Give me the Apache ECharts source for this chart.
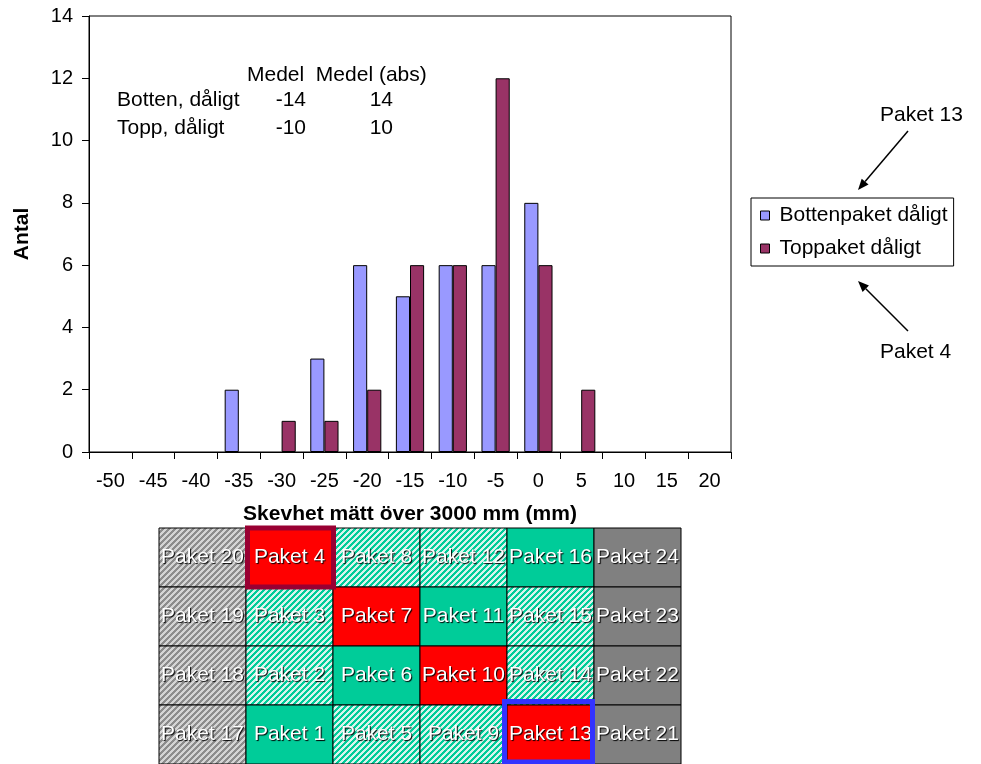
<!DOCTYPE html>
<html>
<head>
<meta charset="utf-8">
<script src="https://cdn.jsdelivr.net/npm/echarts@6/dist/echarts.min.js"></script>
<style>
html, body { margin: 0; background: #fff; }
#chart { width: 981px; height: 764px; }
</style>
</head>
<body>
<div id="chart"></div>
<script>
// histogram: skevhet per klass (mm)
const categories = ['-50', '-45', '-40', '-35', '-30', '-25', '-20', '-15', '-10', '-5', '0', '5', '10', '15', '20']
const bottenValues = [0, 0, 0, 2, 0, 3, 6, 5, 6, 6, 8, 0, 0, 0, 0]
const toppValues = [0, 0, 0, 0, 1, 1, 2, 6, 6, 12, 6, 2, 0, 0, 0]
const seriesNames = ['Bottenpaket dåligt', 'Toppaket dåligt']

// medelvärden i textrutan
const statRows = ['Botten, dåligt', 'Topp, dåligt']
const statMedel = [-14, -10]
const statMedelAbs = [14, 10]

// paketplan under diagrammet (rad för rad uppifrån)
const paketNr = [
  [20, 4, 8, 12, 16, 24],
  [19, 3, 7, 11, 15, 23],
  [18, 2, 6, 10, 14, 22],
  [17, 1, 5, 9, 13, 21]
]
// R = dåligt, G = bra, S = streckad grön, X = grå, XS = streckad grå
const paketStatus = [
  ['XS', 'R', 'S', 'S', 'G', 'X'],
  ['XS', 'S', 'R', 'G', 'S', 'X'],
  ['XS', 'S', 'G', 'R', 'S', 'X'],
  ['XS', 'G', 'S', 'S', 'R', 'X']
]
const markedPaket = [4, 13]

const FONT = 'Arial, "Liberation Sans", sans-serif'
const colors = { 'Bottenpaket dåligt': '#9999ff', 'Toppaket dåligt': '#993366' }

const makeHatch = (dark, light) => {
  const c = document.createElement('canvas')
  c.width = 6
  c.height = 6
  const ctx = c.getContext('2d')
  for (let x = 0; x < 6; x++) {
    for (let y = 0; y < 6; y++) {
      ctx.fillStyle = (x + y) % 6 < 3 ? dark : light
      ctx.fillRect(x, y, 1, 1)
    }
  }
  return { image: c, repeat: 'repeat' }
}

const fills = {
  R: '#ff0000',
  G: '#00cc99',
  X: '#808080',
  S: makeHatch('#00cc99', '#d8f4ec'),
  XS: makeHatch('#8c8c8c', '#d4d4d4')
}

const cells = []
paketNr.forEach((row, r) => {
  row.forEach((nr, c) => {
    cells.push({ col: c, row: r, nr: nr, status: paketStatus[r][c] })
  })
})

// empty classes: no bar outline along the axis
const noZero = v => (v === 0 ? '-' : v)

const arrow = (x1, y1, x2, y2) => {
  const ang = Math.atan2(y2 - y1, x2 - x1)
  const len = 11, w = 4.5
  const bx = x2 - len * Math.cos(ang), by = y2 - len * Math.sin(ang)
  const px = -Math.sin(ang) * w, py = Math.cos(ang) * w
  return [
    { type: 'line', shape: { x1: x1, y1: y1, x2: bx, y2: by }, style: { stroke: '#000', lineWidth: 1.5 } },
    { type: 'polygon', shape: { points: [[x2, y2], [bx + px, by + py], [bx - px, by - py]] }, style: { fill: '#000' } }
  ]
}

const statGraphics = []
statGraphics.push({ type: 'text', left: 247, top: 65, style: { text: 'Medel  Medel (abs)', fill: '#000', font: '21px ' + FONT } })
statRows.forEach((name, i) => {
  const top = 90 + i * 28
  statGraphics.push({ type: 'text', left: 117, top: top, style: { text: name, fill: '#000', font: '21px ' + FONT } })
  statGraphics.push({ type: 'text', right: 981 - 306, top: top, style: { text: String(statMedel[i]), fill: '#000', font: '21px ' + FONT } })
  statGraphics.push({ type: 'text', right: 981 - 393, top: top, style: { text: String(statMedelAbs[i]), fill: '#000', font: '21px ' + FONT } })
})

const chart = echarts.init(document.getElementById('chart'))
chart.setOption({
  animation: false,
  backgroundColor: '#fff',
  textStyle: { fontFamily: FONT },
  legend: {
    orient: 'vertical',
    left: 751,
    top: 198,
    padding: [7, 6, 7, 9],
    itemGap: 12,
    itemWidth: 9,
    itemHeight: 9,
    icon: 'rect',
    borderColor: '#000',
    borderWidth: 1,
    itemStyle: { borderColor: '#000', borderWidth: 1 },
    textStyle: { fontSize: 21, color: '#000', padding: [0, 0, 0, 5] },
    data: seriesNames
  },
  grid: [
    { left: 89, top: 16, width: 642, height: 436, show: true, borderColor: '#000', borderWidth: 1, backgroundColor: '#fff' },
    { left: 159, top: 528, width: 522, height: 236 }
  ],
  xAxis: [
    {
      type: 'category',
      gridIndex: 0,
      data: categories,
      name: 'Skevhet mätt över 3000 mm (mm)',
      nameLocation: 'middle',
      nameGap: 52,
      nameTextStyle: { fontSize: 21, fontWeight: 'bold', color: '#000' },
      axisLine: { lineStyle: { color: '#000' } },
      axisTick: { show: true, length: 7, lineStyle: { color: '#000' } },
      axisLabel: { fontSize: 20, color: '#000', margin: 19, interval: 0 }
    },
    { type: 'category', gridIndex: 1, data: [0, 1, 2, 3, 4, 5], show: false }
  ],
  yAxis: [
    {
      type: 'value',
      gridIndex: 0,
      min: 0,
      max: 14,
      interval: 2,
      name: 'Antal',
      nameLocation: 'middle',
      nameGap: 56,
      nameTextStyle: { fontSize: 21, fontWeight: 'bold', color: '#000' },
      splitLine: { show: false },
      axisLine: { show: true, lineStyle: { color: '#000' } },
      axisTick: { show: true, length: 7, lineStyle: { color: '#000' } },
      axisLabel: { fontSize: 20, color: '#000', margin: 16 }
    },
    { type: 'category', gridIndex: 1, data: [0, 1, 2, 3], inverse: true, show: false }
  ],
  series: [
    {
      name: seriesNames[0],
      type: 'bar',
      data: bottenValues.map(noZero),
      barGap: '0%',
      barCategoryGap: '34%',
      itemStyle: { color: colors[seriesNames[0]], borderColor: '#000', borderWidth: 1 }
    },
    {
      name: seriesNames[1],
      type: 'bar',
      data: toppValues.map(noZero),
      barGap: '0%',
      barCategoryGap: '34%',
      itemStyle: { color: colors[seriesNames[1]], borderColor: '#000', borderWidth: 1 }
    },
    {
      type: 'custom',
      xAxisIndex: 1,
      yAxisIndex: 1,
      silent: true,
      data: cells.map(c => [c.col, c.row]),
      renderItem: (params, api) => {
        const cell = cells[params.dataIndex]
        const p = api.coord([api.value(0), api.value(1)])
        const s = api.size([1, 1])
        const x = p[0] - s[0] / 2
        const y = p[1] - s[1] / 2
        const children = [
          { type: 'rect', shape: { x: x, y: y, width: s[0], height: s[1] }, style: { fill: fills[cell.status], stroke: '#000', lineWidth: 1 } },
          {
            type: 'text',
            z2: 5,
            style: {
              text: 'Paket ' + cell.nr,
              x: x + s[0] / 2,
              y: y + s[1] / 2,
              align: 'center',
              verticalAlign: 'middle',
              textAlign: 'center',
              textVerticalAlign: 'middle',
              fill: '#fff',
              font: '21px ' + FONT,
              textShadowColor: '#000',
              textShadowBlur: 1,
              textShadowOffsetX: 1,
              textShadowOffsetY: 1
            }
          }
        ]
        const m = markedPaket.indexOf(cell.nr)
        if (m >= 0) {
          children.push({
            type: 'rect',
            z2: 10,
            shape: m === 0
              ? { x: x + 1.5, y: y, width: s[0] - 1, height: s[1] }
              : { x: x - 2.5, y: y - 3.5, width: s[0] + 1, height: s[1] + 1.5 },
            style: { fill: 'none', stroke: m === 0 ? '#990033' : '#3333ff', lineWidth: 5 }
          })
        }
        return { type: 'group', children: children }
      }
    }
  ],
  graphic: [
    ...statGraphics,
    { type: 'text', left: 880, top: 105, style: { text: 'Paket 13', fill: '#000', font: '21px ' + FONT } },
    { type: 'text', left: 880, top: 342, style: { text: 'Paket 4', fill: '#000', font: '21px ' + FONT } },
    ...arrow(908, 131, 858, 190),
    ...arrow(908, 331, 858, 281)
  ]
})
</script>
</body>
</html>
